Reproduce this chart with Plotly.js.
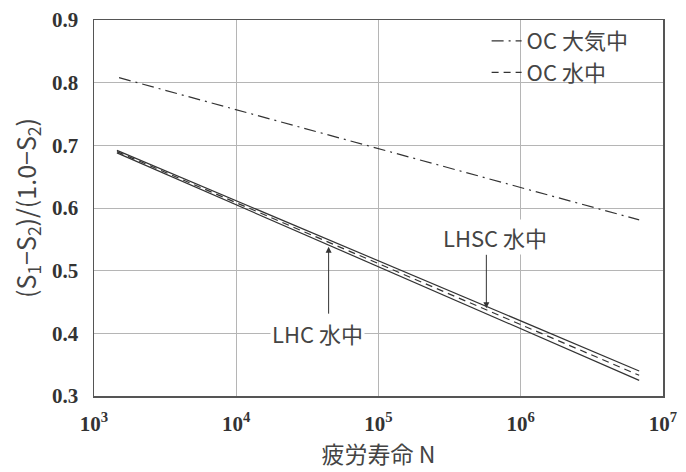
<!DOCTYPE html>
<html>
<head>
<meta charset="utf-8">
<script src="https://cdn.plot.ly/plotly-3.0.1.min.js"></script>
<style>html,body{margin:0;padding:0;background:#fff;}#chart{width:686px;height:472px;}</style>
</head>
<body>
<div id="chart"></div>
<script>
// Data
const ocAirN = [1500, 6800000];
const ocAirS = [0.808, 0.581];
const ocWaterN = [1450, 6800000];
const ocWaterS = [0.690, 0.333];
const lhscN = [1450, 6800000];
const lhscS = [0.692, 0.340];
const lhcN = [1450, 6800000];
const lhcS = [0.688, 0.325];

const xTickVals = [1e3, 1e4, 1e5, 1e6, 1e7];
const xTickText = ['10<sup>3</sup>', '10<sup>4</sup>', '10<sup>5</sup>', '10<sup>6</sup>', '10<sup>7</sup>'];
const yTickVals = [0.3, 0.4, 0.5, 0.6, 0.7, 0.8, 0.9];
const yTickText = ['0.3', '0.4', '0.5', '0.6', '0.7', '0.8', '0.9'];

const sans = '"Noto Sans CJK JP", "Noto Sans", sans-serif';
const serif = '"Liberation Serif", "DejaVu Serif", serif';
const ink = '#333';
const textInk = '#444';

const traces = [
  {x: ocAirN, y: ocAirS, mode: 'lines', name: 'OC 大気中',
   line: {color: ink, width: 1.2, dash: '12px,5px,2px,5px'}},
  {x: ocWaterN, y: ocWaterS, mode: 'lines', name: 'OC 水中',
   line: {color: ink, width: 1.2, dash: '7px,5px'}},
  {x: lhscN, y: lhscS, mode: 'lines', name: 'LHSC 水中', showlegend: false,
   line: {color: ink, width: 1.2}},
  {x: lhcN, y: lhcS, mode: 'lines', name: 'LHC 水中', showlegend: false,
   line: {color: ink, width: 1.2}}
];

const layout = {
  width: 686, height: 472,
  margin: {l: 94, r: 23, t: 20, b: 76},
  paper_bgcolor: '#fff', plot_bgcolor: '#fff',
  showlegend: true,
  legend: {x: 0.69, xanchor: 'left', y: 1.0, yanchor: 'top', bgcolor: 'rgba(255,255,255,0)',
           font: {family: sans, size: 22, color: textInk}, itemwidth: 30, tracegroupgap: 0},
  xaxis: {type: 'log', range: [3, 7], tickvals: xTickVals, ticktext: xTickText,
          showgrid: true, gridcolor: '#b5b5b5', gridwidth: 1,
          showline: true, linecolor: '#555', linewidth: 1.5, mirror: true,
          ticks: '', ticklabelstandoff: 8,
          tickfont: {family: serif, size: 21, color: '#333', weight: 'bold'},
          title: {text: '疲労寿命 N', font: {family: sans, size: 23, color: textInk}, standoff: 10},
          zeroline: false},
  yaxis: {range: [0.3, 0.9], tickvals: yTickVals, ticktext: yTickText,
          showgrid: true, gridcolor: '#b5b5b5', gridwidth: 1,
          showline: true, linecolor: '#555', linewidth: 1.5, mirror: true,
          ticks: '', ticklabelstandoff: 10,
          tickfont: {family: serif, size: 21, color: '#333', weight: 'bold'},
          title: {text: '(S<sub>1</sub>−S<sub>2</sub>)/(1.0−S<sub>2</sub>)', font: {family: sans, size: 25, color: textInk}, standoff: 8},
          zeroline: false},
  annotations: [
    {x: Math.log10(5.73e5), y: 0.440, ax: Math.log10(5.73e5), ay: 0.528, axref: 'x', ayref: 'y',
     xref: 'x', yref: 'y', text: '', showarrow: true, arrowhead: 2, arrowsize: 1.2, arrowwidth: 1, arrowcolor: ink},
    {x: Math.log10(6.6e5), y: 0.554, xref: 'x', yref: 'y', text: 'LHSC 水中', showarrow: false,
     font: {family: sans, size: 22, color: textInk}, bgcolor: '#fff'},
    {x: Math.log10(4.46e4), y: 0.538, ax: Math.log10(4.46e4), ay: 0.429, axref: 'x', ayref: 'y',
     xref: 'x', yref: 'y', text: '', showarrow: true, arrowhead: 2, arrowsize: 1.2, arrowwidth: 1, arrowcolor: ink},
    {x: Math.log10(3.73e4), y: 0.400, xref: 'x', yref: 'y', text: 'LHC 水中', showarrow: false,
     font: {family: sans, size: 22, color: textInk}, bgcolor: '#fff'}
  ]
};

Plotly.newPlot('chart', traces, layout, {displayModeBar: false, staticPlot: true});
</script>
</body>
</html>
